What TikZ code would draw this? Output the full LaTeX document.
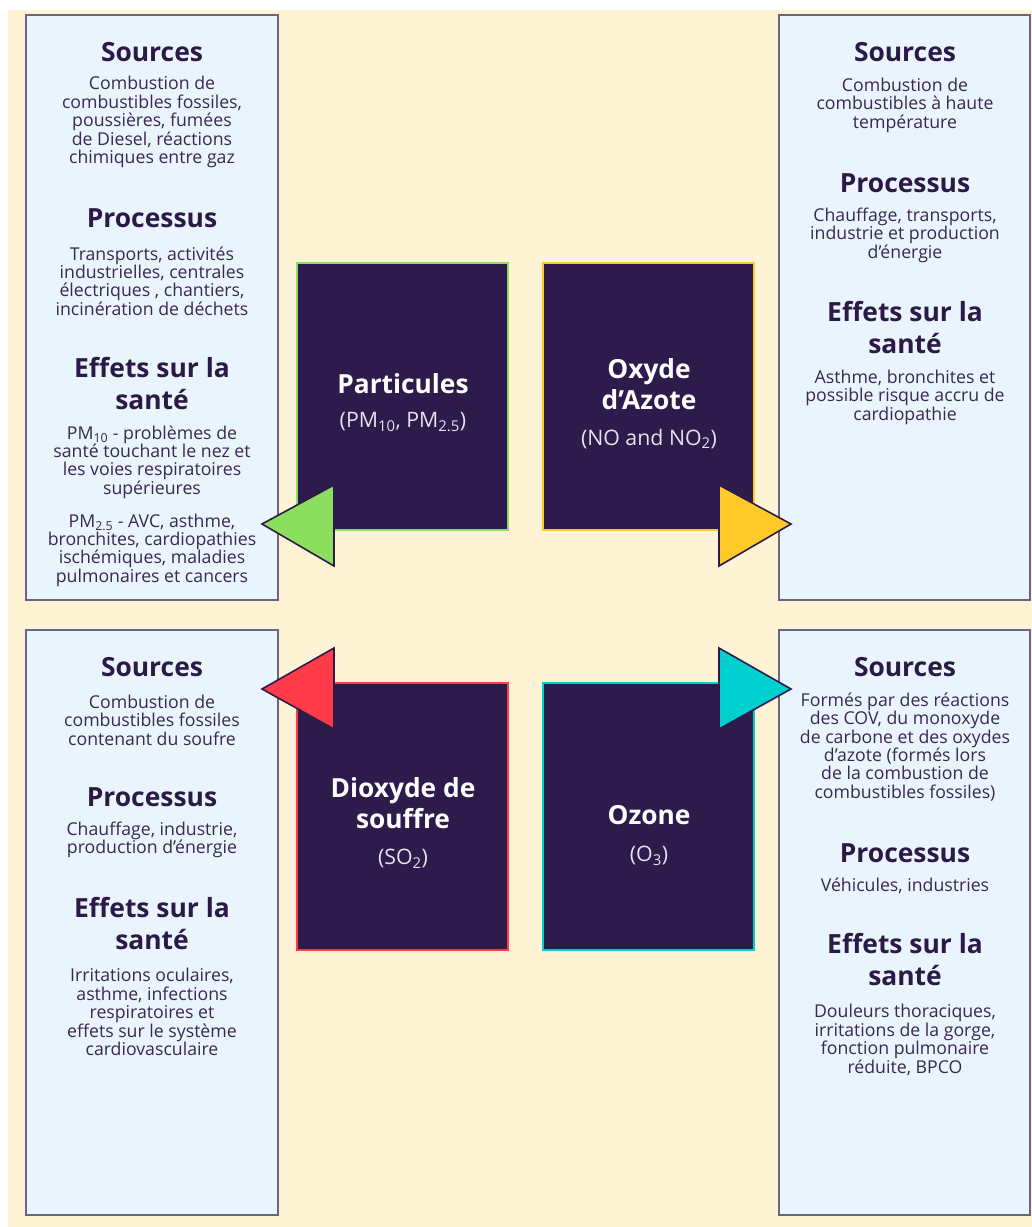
\documentclass[tikz,border=0pt]{standalone}
\usepackage{fontspec}
\setmainfont{Open Sans}
\definecolor{bgc}{HTML}{FFF3D6}
\definecolor{boxfill}{HTML}{EAF4FD}
\definecolor{boxline}{HTML}{6A6480}
\definecolor{darkc}{HTML}{2D1B4B}
\definecolor{titlec}{HTML}{2A1A45}
\definecolor{bodyc}{HTML}{38294F}
\definecolor{subc}{HTML}{E6E2F0}
\definecolor{greenc}{HTML}{8CDF5E}
\definecolor{yellowc}{HTML}{FFCA28}
\definecolor{redc}{HTML}{FF3B4A}
\definecolor{cyanc}{HTML}{00CFCF}
\tikzset{
  infobox/.style={draw=boxline, line width=1.5pt, fill=boxfill},
  darkbox/.style={fill=darkc, line width=2pt},
  head/.style={font=\fontsize{26.4}{32}\selectfont\bfseries, text=titlec, align=center, inner sep=0pt},
  body/.style={font=\fontsize{17.7}{18.4}\selectfont, text=bodyc, align=center, inner sep=0pt},
  dhead/.style={font=\fontsize{26.3}{31}\selectfont\bfseries, text=white, align=center, inner sep=0pt},
  dsub/.style={font=\fontsize{21.3}{22}\selectfont, text=subc, align=center, inner sep=0pt},
  tri/.style={draw=darkc, line width=1.6pt, line join=miter},
}
\begin{document}
\begin{tikzpicture}[x=1pt,y=-1pt]
\useasboundingbox (0,0) rectangle (1032,1227);
\fill[white] (0,0) rectangle (1032,1227);
\fill[bgc] (8,10) rectangle (1032,1227);

% info boxes
\draw[infobox] (26,15) rectangle (278,600);
\draw[infobox] (779,15) rectangle (1030,600);
\draw[infobox] (26,630) rectangle (278,1215);
\draw[infobox] (779,630) rectangle (1030,1215);

% dark boxes
\draw[darkbox, draw=greenc] (297,263) rectangle (508,530);
\draw[darkbox, draw=yellowc] (543,263) rectangle (754,530);
\draw[darkbox, draw=redc] (297,683) rectangle (508,950);
\draw[darkbox, draw=cyanc] (543,683) rectangle (754,950);

% triangles
\coordinate (tg) at (262,524);
\coordinate (ty) at (791,524);
\coordinate (tr) at (262,689);
\coordinate (tc) at (791,689);
\draw[tri, fill=greenc] (tg) -- (334,485) -- (334,566) -- cycle;
\draw[tri, fill=yellowc] (ty) -- (719,485) -- (719,566) -- cycle;
\draw[tri, fill=redc] (tr) -- (334,648) -- (334,729) -- cycle;
\draw[tri, fill=cyanc] (tc) -- (719,648) -- (719,729) -- cycle;

% dark box texts
\node[dhead] (pmt) at (403,384) {Particules};
\node[dsub] (pms) at (403,422) {(PM\textsubscript{10}, PM\textsubscript{2.5})};
\node[dhead] (noxt) at (649,384) {Oxyde\\d’Azote};
\node[dsub] (noxs) at (649,439) {(NO and NO\textsubscript{2})};
\node[dhead] (sot) at (403,803) {Dioxyde de\\souffre};
\node[dsub] (sos) at (403,859) {(SO\textsubscript{2})};
\node[dhead] (ozt) at (649,815) {Ozone};
\node[dsub] (ozs) at (649,856) {(O\textsubscript{3})};

% top-left
\node[head] (a1) at (152,52) {Sources};
\node[body] (a2) at (152,122) {Combustion de\\combustibles fossiles,\\poussières, fumées\\de Diesel, réactions\\chimiques entre gaz};
\node[head] (a3) at (152,218) {Processus};
\node[body] (a4) at (152,281) {Transports, activités\\industrielles, centrales\\électriques , chantiers,\\incinération de déchets};
\node[head] (a5) at (152,384) {Effets sur la\\santé};
\node[body] (a6) at (152,462) {PM\textsubscript{10} - problèmes de\\santé touchant le nez et\\les voies respiratoires\\supérieures};
\node[body] (a7) at (152,550) {PM\textsubscript{2.5} - AVC, asthme,\\bronchites, cardiopathies\\ischémiques, maladies\\pulmonaires et cancers};

% top-right
\node[head] (b1) at (905,52) {Sources};
\node[body] (b2) at (905,105) {Combustion de\\combustibles à haute\\température};
\node[head] (b3) at (905,183) {Processus};
\node[body] (b4) at (905,235) {Chauffage, transports,\\industrie et production\\d’énergie};
\node[head] (b5) at (905,328) {Effets sur la\\santé};
\node[body] (b6) at (905,397) {Asthme, bronchites et\\possible risque accru de\\cardiopathie};

% bottom-left
\node[head] (c1) at (152,667) {Sources};
\node[body] (c2) at (152,720) {Combustion de\\combustibles fossiles\\contenant du soufre};
\node[head] (c3) at (152,797) {Processus};
\node[body] (c4) at (152,840) {Chauffage, industrie,\\production d’énergie};
\node[head] (c5) at (152,924) {Effets sur la\\santé};
\node[body] (c6) at (152,1012) {Irritations oculaires,\\asthme, infections\\respiratoires et\\effets sur le système\\cardiovasculaire};

% bottom-right
\node[head] (d1) at (905,667) {Sources};
\node[body] (d2) at (905,747) {Formés par des réactions\\des COV, du monoxyde\\de carbone et des oxydes\\d’azote (formés lors\\de la combustion de\\combustibles fossiles)};
\node[head] (d3) at (905,853) {Processus};
\node[body] (d4) at (905,886) {Véhicules, industries};
\node[head] (d5) at (905,960) {Effets sur la\\santé};
\node[body] (d6) at (905,1040) {Douleurs thoraciques,\\irritations de la gorge,\\fonction pulmonaire\\réduite, BPCO};
\end{tikzpicture}
\end{document}
